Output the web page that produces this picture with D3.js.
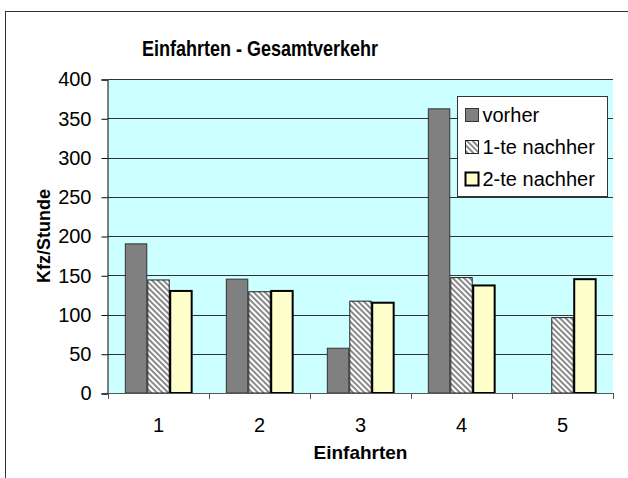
<!DOCTYPE html>
<html>
<head>
<meta charset="utf-8">
<script src="https://cdn.jsdelivr.net/npm/d3@7"></script>
<style>
  body { margin: 0; background: #fff; }
  svg { display: block; font-family: "Liberation Sans", Arial, sans-serif; }
</style>
</head>
<body>
<svg id="chart" width="628" height="478"></svg>
<script>
// data
var categories = ["1", "2", "3", "4", "5"];
var seriesNames = ["vorher", "1-te nachher", "2-te nachher"];
var vorher = [190, 145, 57, 362, 0];
var nachher1 = [144, 129, 117, 147, 96];
var nachher2 = [130, 130, 115, 137, 145];
var yTicks = [0, 50, 100, 150, 200, 250, 300, 350, 400];

var svg = d3.select("#chart");

// plot area (plotTop, not "top": that one is window.top)
var plotLeft = 108, plotRight = 613, plotTop = 79, plotBottom = 393;

// hatched fill for the middle series
var defs = svg.append("defs");
var pat = defs.append("pattern")
    .attr("id", "hatch")
    .attr("patternUnits", "userSpaceOnUse")
    .attr("width", 4)
    .attr("height", 4)
    .attr("patternTransform", "rotate(-45)");
pat.append("rect").attr("width", 4).attr("height", 4).attr("fill", "#fff");
pat.append("rect").attr("width", 2).attr("height", 4).attr("fill", "#8a8a8a");

// outer frame (only left and top edges show in the window)
svg.append("rect")
    .attr("x", 5.5).attr("y", 11.5)
    .attr("width", 640).attr("height", 480)
    .attr("fill", "none")
    .attr("stroke", "#333")
    .attr("stroke-width", 1);

var y = d3.scaleLinear().domain([0, 400]).range([plotBottom, plotTop]);
var x0 = d3.scaleBand().domain(categories).range([plotLeft, plotRight])
    .paddingInner(1 / 3).paddingOuter(1 / 6);
var x1 = d3.scaleBand().domain(seriesNames).range([0, x0.bandwidth()]);

svg.append("rect")
    .attr("x", plotLeft).attr("y", plotTop)
    .attr("width", plotRight - plotLeft).attr("height", plotBottom - plotTop)
    .attr("fill", "#ccffff");

// gridlines
svg.append("g").selectAll("line")
    .data(yTicks.filter(function(d) { return d > 0; }))
    .join("line")
    .attr("x1", plotLeft).attr("x2", plotRight)
    .attr("y1", function(d) { return Math.round(y(d)) + 0.5; })
    .attr("y2", function(d) { return Math.round(y(d)) + 0.5; })
    .attr("stroke", "#333")
    .attr("stroke-width", 1);

var styles = [
    { fill: "#808080", stroke: "#333", sw: 1 },
    { fill: "url(#hatch)", stroke: "#222", sw: 1 },
    { fill: "#ffffcc", stroke: "#000", sw: 2 }
];
var rows = categories.map(function(c, i) {
    return [vorher[i], nachher1[i], nachher2[i]];
});

var groups = svg.append("g").selectAll("g")
    .data(rows)
    .join("g")
    .attr("transform", function(d, i) { return "translate(" + x0(categories[i]) + ",0)"; });

groups.selectAll("rect")
    .data(function(d) {
        return d.map(function(v, j) { return { v: v, j: j }; })
            .filter(function(e) { return e.v > 0; });
    })
    .join("rect")
    .attr("x", function(d) { return x1(seriesNames[d.j]) + 0.5; })
    .attr("y", function(d) { return y(d.v); })
    .attr("width", x1.bandwidth() - 1)
    .attr("height", function(d) { return plotBottom - y(d.v); })
    .attr("fill", function(d) { return styles[d.j].fill; })
    .attr("stroke", function(d) { return styles[d.j].stroke; })
    .attr("stroke-width", function(d) { return styles[d.j].sw; });

// y axis
var yAxis = svg.append("g")
    .attr("transform", "translate(" + (plotLeft - 0.5) + ",0.5)")
    .call(d3.axisLeft(y).tickValues(yTicks).tickSize(6).tickPadding(10));
yAxis.select(".domain").attr("stroke", "#000");
yAxis.selectAll(".tick line").attr("stroke", "#000");
yAxis.selectAll("text").attr("font-size", 20).attr("fill", "#000")
    .attr("font-family", "Liberation Sans, Arial, sans-serif");

// x axis: ticks on category boundaries
var xg = svg.append("g");
xg.append("line")
    .attr("x1", plotLeft).attr("x2", plotRight)
    .attr("y1", plotBottom + 0.5).attr("y2", plotBottom + 0.5)
    .attr("stroke", "#555");
var bounds = categories.map(function(c) { return x0(c) - x0.step() * x0.paddingOuter(); });
bounds.push(plotRight);
xg.selectAll(".bt").data(bounds).join("line")
    .attr("class", "bt")
    .attr("x1", function(d) { return Math.round(d) + 0.5; })
    .attr("x2", function(d) { return Math.round(d) + 0.5; })
    .attr("y1", plotBottom).attr("y2", plotBottom + 6)
    .attr("stroke", "#555");
xg.selectAll("text").data(categories).join("text")
    .attr("x", function(d) { return x0(d) + x0.bandwidth() / 2; })
    .attr("y", 432)
    .attr("text-anchor", "middle")
    .attr("font-size", 20)
    .text(function(d) { return d; });

// titles (title glyphs are taller than they are wide in the original)
svg.append("text")
    .attr("transform", "translate(260,56) scale(1,1.25)")
    .attr("text-anchor", "middle")
    .attr("font-size", 18)
    .attr("font-weight", "bold")
    .text("Einfahrten - Gesamtverkehr");

svg.append("text")
    .attr("x", (plotLeft + plotRight) / 2).attr("y", 459)
    .attr("text-anchor", "middle")
    .attr("font-size", 19)
    .attr("font-weight", "bold")
    .text("Einfahrten");

svg.append("text")
    .attr("transform", "translate(50," + ((plotTop + plotBottom) / 2) + ") rotate(-90)")
    .attr("text-anchor", "middle")
    .attr("font-size", 18)
    .attr("font-weight", "bold")
    .text("Kfz/Stunde");

// legend
var lg = svg.append("g").attr("transform", "translate(457.5,96.5)");
lg.append("rect")
    .attr("width", 150).attr("height", 100)
    .attr("fill", "#fff")
    .attr("stroke", "#333");
var items = lg.selectAll(".item").data(seriesNames).join("g")
    .attr("class", "item")
    .attr("transform", function(d, i) { return "translate(8," + (18 + i * 32) + ")"; });
items.append("rect")
    .attr("x", 0).attr("y", -6)
    .attr("width", 13).attr("height", 13)
    .attr("fill", function(d, i) { return styles[i].fill; })
    .attr("stroke", function(d, i) { return styles[i].stroke; })
    .attr("stroke-width", function(d, i) { return styles[i].sw; });
items.append("text")
    .attr("x", 17).attr("y", 7)
    .attr("font-size", 20)
    .text(function(d) { return d; });
</script>
</body>
</html>
